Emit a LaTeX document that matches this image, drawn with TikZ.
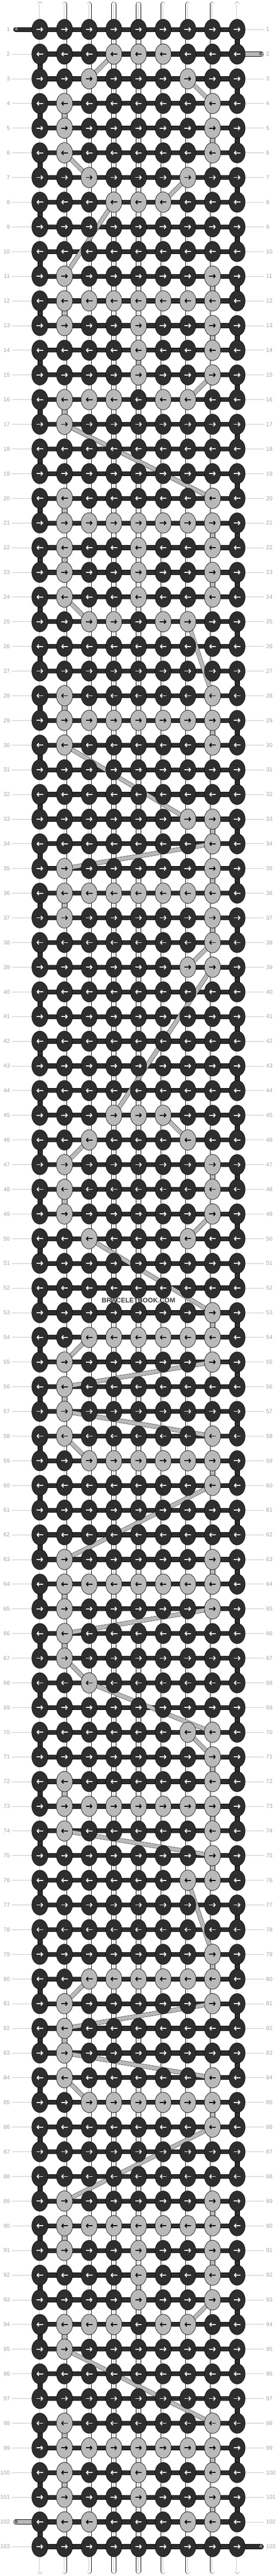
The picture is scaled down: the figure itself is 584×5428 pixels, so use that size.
\documentclass[tikz,border=0pt]{standalone}
\usepackage{fontspec}
\setmainfont{Liberation Sans}
\usetikzlibrary{shapes.geometric,arrows.meta}

\definecolor{knotdark}{HTML}{2E2E2E}
\definecolor{knotlight}{HTML}{B9B9B9}
\definecolor{rowgray}{HTML}{A3A3A3}
\definecolor{guidegray}{HTML}{C6C6C6}
\definecolor{markgray}{HTML}{3C3C3C}

\pgfdeclarelayer{strands}
\pgfdeclarelayer{rows}
\pgfdeclarelayer{carry}
\pgfsetlayers{strands,rows,carry,main}

\tikzset{
  knot/.style={ellipse, draw=black, line width=.6pt, fill=knotdark,
    minimum width=34pt, minimum height=43pt, inner sep=0pt},
  lightknot/.style={knot, fill=knotlight},
  fwd/.style={line width=2pt, -{Straight Barb[length=3.5pt,width=8pt]}},
  strand/.style={draw=black, line width=.5pt, double=white, double distance=9pt, line cap=round},
  strandcore/.style={draw=guidegray, line width=.6pt},
  rowbar/.style={draw=black, line width=.5pt, double=knotdark, double distance=9pt},
  carry/.style={draw=black, line width=.5pt, double=knotlight, double distance=8pt},
  turn/.style={draw=black, line width=.5pt, fill=knotdark},
  lift/.style={draw=black, line width=.5pt, fill=knotlight},
  rownum/.style={text=rowgray, font=\fontsize{12}{12}\selectfont, inner sep=0pt},
  guide/.style={draw=guidegray, line width=.8pt},
  tailA/.style={draw=black, line width=.5pt, double=knotdark, double distance=9pt, line cap=round},
  tailB/.style={tailA, double=knotlight},
  taillabel/.style={font=\fontsize{9}{9}\selectfont, inner sep=0pt},
}

% light knots of thread B: row/{columns}
\def\lightknots{2/{4,5,6},3/{3,7},4/{2,8},5/{2,8},6/{2,8},7/{3,7},8/{4,5,6},
  11/{2,8},12/{2,...,8},13/{2,5,8},14/{5,8},15/{5,8},16/{2,3,4,6,7},17/{2},
  20/{2,8},21/{2,...,8},22/{2,5,8},23/{2,5,8},24/{2,5,8},25/{3,4,6,7},
  28/{2,8},29/{2,...,8},30/{2,8},
  33/{7,8},34/{8},35/{2,8},36/{2,...,8},37/{2,8},38/{8},39/{7,8},
  45/{4,5,6},46/{3,7},47/{2,8},48/{2,8},49/{2,8},50/{3,7},
  53/{8},54/{3,...,8},55/{2,8},56/{2},57/{2},58/{2,8},59/{3,...,8},60/{8},
  63/{2,8},64/{2,...,8},65/{2,8},66/{2},67/{2},68/{3},
  70/{7,8},71/{8},72/{2,8},73/{2,...,8},74/{2,8},75/{8},76/{7,8},
  79/{8},80/{3,...,8},81/{2,8},82/{2},83/{2},84/{2,8},85/{3,...,8},86/{8},
  89/{2,8},90/{2,...,8},91/{2,5,8},92/{5,8},93/{5,8},94/{2,3,4,6,7},95/{2},
  98/{2,8},99/{2,...,8},100/{2,5,8},101/{2,5,8},102/{2,3,7,8}}

\begin{document}
\begin{tikzpicture}[x=1pt, y=-1pt]
    \useasboundingbox (0,0) rectangle (584,5428);

    % Knots (thread A)
    \foreach \r in {1,...,103}{
      \pgfmathsetmacro\ay{10+52*\r}
      \foreach \c in {1,...,9}{
        \node[knot] (k-\r-\c) at ({32+52*\c},\ay) {};
        \ifodd\r
          \draw[fwd, white] ([xshift=-7pt]k-\r-\c.center) -- ([xshift=7pt]k-\r-\c.center);
        \else
          \draw[fwd, white] ([xshift=7pt]k-\r-\c.center) -- ([xshift=-7pt]k-\r-\c.center);
        \fi
      }
    }

    % Knots (thread B)
    \foreach \r/\cols in \lightknots{
      \foreach \c in \cols{
        \node[lightknot] at (k-\r-\c) {};
        \ifodd\r
          \draw[fwd, black] ([xshift=-7pt]k-\r-\c.center) -- ([xshift=7pt]k-\r-\c.center);
        \else
          \draw[fwd, black] ([xshift=7pt]k-\r-\c.center) -- ([xshift=-7pt]k-\r-\c.center);
        \fi
      }
    }

    % Row numbers
    \foreach \r in {1,...,103}{
      \pgfmathsetmacro\ay{10+52*\r}
      \node[rownum, anchor=east] (num-l-\r) at (21,\ay) {\r};
      \node[rownum, anchor=west] (num-r-\r) at (561,\ay) {\r};
    }

    % Vertical strands and guide lines
    \begin{pgfonlayer}{strands}
    \foreach \c in {1,...,9}{
      \coordinate (top-\c) at ({32+52*\c},9);
      \coordinate (end-\c) at ({32+52*\c},5418);
      \draw[strand] (top-\c) -- (end-\c);
      \draw[strandcore] ([xshift=-1pt]top-\c) -- ([xshift=-1pt]end-\c);
    }
    \foreach \r in {1,...,103}{
      \ifnum\r=1 \else\ifnum\r=102 \else
        \draw[guide] ([xshift=4pt]num-l-\r.east) -- (k-\r-1.center);
      \fi\fi
      \ifnum\r=2 \else\ifnum\r=103 \else
        \draw[guide] (k-\r-9.center) -- ([xshift=-4pt]num-r-\r.west);
      \fi\fi
    }
    \end{pgfonlayer}

    % Rows of thread A, turns at the edges
    \begin{pgfonlayer}{rows}
    \foreach \r in {1,...,103}
      \draw[rowbar] (k-\r-1.center) -- (k-\r-9.center);
    \foreach \r in {1,3,...,101}{
      \pgfmathtruncatemacro\n{\r+1}
      \draw[turn] ([xshift=-5pt]k-\r-9.center) rectangle ([xshift=5pt]k-\n-9.center);
    }
    \foreach \r in {2,4,...,102}{
      \pgfmathtruncatemacro\n{\r+1}
      \draw[turn] ([xshift=-5pt]k-\r-1.center) rectangle ([xshift=5pt]k-\n-1.center);
    }
    % thread B straight down
    \foreach \r/\c in {4/2,5/8,11/8,12/2,13/8,14/5,16/2,20/2,21/8,22/2,23/8,28/2,29/8,
        33/8,35/8,36/2,37/8,47/8,48/2,53/8,56/2,59/8,63/8,64/2,66/2,71/8,72/2,73/8,
        75/8,79/8,82/2,85/8,89/8,90/2,91/8,92/5,94/2,98/2,99/8,100/2,101/8}{
      \pgfmathtruncatemacro\n{\r+1}
      \draw[lift] ([xshift=-5pt]k-\r-\c.center) rectangle ([xshift=5pt]k-\n-\c.center);
    }
    % Tails
    \coordinate (A-in) at (33,62);
    \coordinate (B-in) at (551,114);
    \coordinate (B-out) at (33,5314);
    \coordinate (A-out) at (551,5366);
    \draw[tailA] (A-in) -- (k-1-1.center);
    \draw[tailB] (k-2-9.center) -- (B-in);
    \draw[tailB] (B-out) -- (k-102-1.center);
    \draw[tailA] (k-103-9.center) -- (A-out);
    \end{pgfonlayer}

    \node[taillabel, text=white] (A-top) at (34.5,62) {A};
    \node[taillabel, text=black] (B-top) at (550,114) {B};
    \node[taillabel, text=black] (B-end) at (34.5,5314) {B};
    \node[taillabel, text=white] (A-end) at (550,5366) {A};

    % Thread B carried between rows
    \begin{pgfonlayer}{carry}
    \foreach \ra/\ca/\rb/\cb in {2/4/3/3,3/7/4/8,6/2/7/3,7/7/8/6,8/4/11/2,15/8/16/7,
        17/2/20/8,24/2/25/3,25/7/28/8,30/2/33/7,34/8/35/2,38/8/39/7,39/8/45/4,
        45/6/46/7,46/3/47/2,49/8/50/7,50/3/53/8,54/3/55/2,55/8/56/2,57/2/58/8,
        58/2/59/3,60/8/63/2,65/8/66/2,67/2/68/3,68/3/70/8,70/7/71/8,74/2/75/8,
        76/7/79/8,80/3/81/2,81/8/82/2,83/2/84/8,84/2/85/3,86/8/89/2,93/8/94/7,
        95/2/98/8}
      \draw[carry] (k-\ra-\ca.center) -- (k-\rb-\cb.center);
    \end{pgfonlayer}

    % Watermark
    \node[font=\bfseries\fontsize{14}{14}\selectfont, text=markgray] (mark) at (292,2740) {BRACELETBOOK.COM};

\end{tikzpicture}
\end{document}
